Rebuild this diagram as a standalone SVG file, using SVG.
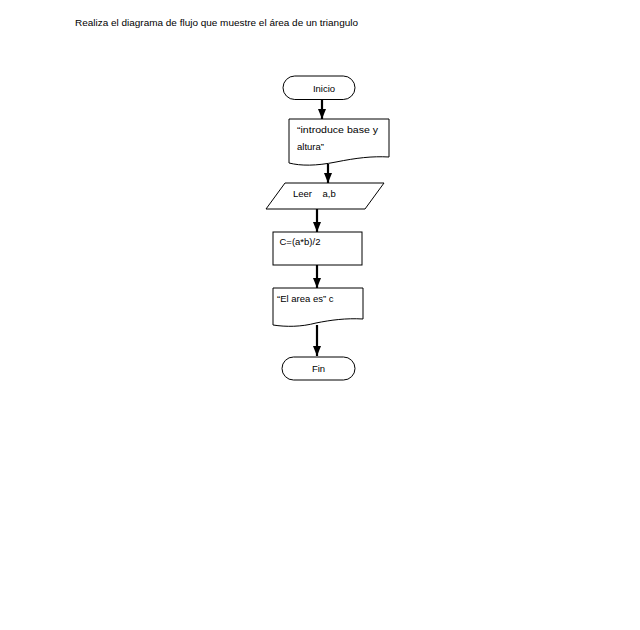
<svg xmlns="http://www.w3.org/2000/svg" width="640" height="630" viewBox="0 0 640 630">
<defs>
<marker id="ah" markerUnits="userSpaceOnUse" markerWidth="10" markerHeight="10" viewBox="0 0 10 10" refX="10" refY="5" orient="auto">
<path d="M0,1 L10,5 L0,9 Z" fill="#000"/>
</marker>
</defs>
<style>
.s{fill:#fff;stroke:#000;stroke-width:1}
.t{font-family:"Liberation Sans",Arial,sans-serif;font-size:9.5px;fill:#000}
.c{stroke:#000;stroke-width:2.2;fill:none;marker-end:url(#ah)}
</style>
<rect width="640" height="630" fill="#fff"/>
<text class="t" x="75" y="26" textLength="283" lengthAdjust="spacingAndGlyphs">Realiza el diagrama de flujo que muestre el área de un triangulo</text>
<g id="connectors">
<line class="c" x1="322" y1="100" x2="322" y2="119"/>
<line class="c" x1="328" y1="164" x2="328" y2="183"/>
<line class="c" x1="317" y1="209" x2="317" y2="232"/>
<line class="c" x1="317" y1="265" x2="317" y2="288"/>
<line class="c" x1="317" y1="325" x2="317" y2="356"/>
</g>
<g id="inicio">
<rect class="s" x="283" y="76" width="72" height="23.5" rx="11.75"/>
<text class="t" x="324" y="91.5" text-anchor="middle">Inicio</text>
</g>
<g id="mensaje1">
<path class="s" d="M289,119 H389 V157 C372,156 356,158 336,162 C316,166 301,166 289,163 Z"/>
<text class="t" x="297" y="133" textLength="81" lengthAdjust="spacingAndGlyphs">“introduce base y</text>
<text class="t" x="297" y="150">altura”</text>
</g>
<g id="leer">
<path class="s" d="M285,183 H384 L365,209 H266 Z"/>
<text class="t" x="293" y="197" xml:space="preserve">Leer    a,b</text>
</g>
<g id="proceso">
<rect class="s" x="273" y="232" width="89" height="33"/>
<text class="t" x="279.5" y="244.5">C=(a*b)/2</text>
</g>
<g id="mensaje2">
<path class="s" d="M273,288 H363 V319 C346,318 331,320 316,323 C301,327 286,327 273,325 Z"/>
<text class="t" x="277" y="302">“El area es” c</text>
</g>
<g id="fin">
<rect class="s" x="282" y="357" width="73" height="23" rx="11.5"/>
<text class="t" x="318.5" y="372" text-anchor="middle">Fin</text>
</g>
</svg>
